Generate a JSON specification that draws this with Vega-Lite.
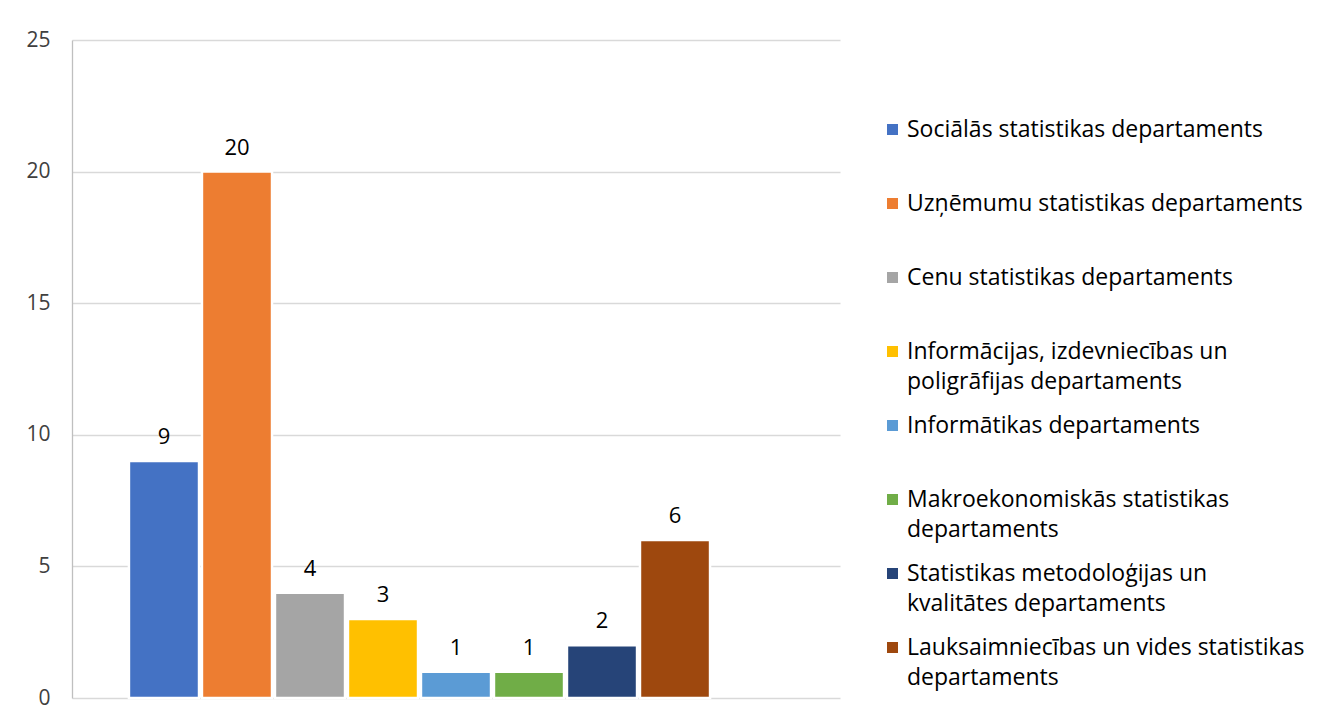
{
  "$schema": "https://vega.github.io/schema/vega-lite/v6.json",
  "width": 768,
  "height": 658,
  "autosize": {"type": "none"},
  "padding": {"left": 72, "top": 40, "right": 478, "bottom": 22},
  "background": "white",
  "config": {
    "font": "Open Sans",
    "view": {"stroke": null},
    "style": {"guide-label": {"lineHeight": 30}}
  },
  "data": {
    "values": [
      {"dept": "Sociālās statistikas departaments", "value": 9},
      {"dept": "Uzņēmumu statistikas departaments", "value": 20},
      {"dept": "Cenu statistikas departaments", "value": 4},
      {"dept": "Informācijas, izdevniecības un poligrāfijas departaments", "value": 3},
      {"dept": "Informātikas departaments", "value": 1},
      {"dept": "Makroekonomiskās statistikas departaments", "value": 1},
      {"dept": "Statistikas metodoloģijas un kvalitātes departaments", "value": 2},
      {"dept": "Lauksaimniecības un vides statistikas departaments", "value": 6}
    ]
  },
  "encoding": {
    "x": {
      "field": "dept",
      "type": "nominal",
      "sort": null,
      "scale": {
        "domain": [
          "Sociālās statistikas departaments",
          "Uzņēmumu statistikas departaments",
          "Cenu statistikas departaments",
          "Informācijas, izdevniecības un poligrāfijas departaments",
          "Informātikas departaments",
          "Makroekonomiskās statistikas departaments",
          "Statistikas metodoloģijas un kvalitātes departaments",
          "Lauksaimniecības un vides statistikas departaments",
          " "
        ],
        "paddingInner": 0.04,
        "paddingOuter": 0.78
      },
      "axis": null
    },
    "y": {
      "field": "value",
      "type": "quantitative",
      "scale": {"domain": [0, 25], "nice": false},
      "axis": {
        "title": null,
        "values": [0, 5, 10, 15, 20, 25],
        "grid": true,
        "gridColor": "#d9d9d9",
        "gridWidth": 1.3,
        "domain": true,
        "domainColor": "#bfbfbf",
        "domainWidth": 1.3,
        "ticks": false,
        "labelPadding": 22,
        "labelFontSize": 21,
        "labelColor": "#404040",
        "labelFont": "Open Sans"
      }
    }
  },
  "layer": [
    {
      "mark": {"type": "bar", "stroke": "white", "strokeWidth": 2.5},
      "encoding": {
        "color": {
          "field": "dept",
          "type": "nominal",
          "sort": null,
          "scale": {
            "domain": [
              "Sociālās statistikas departaments",
              "Uzņēmumu statistikas departaments",
              "Cenu statistikas departaments",
              "Informācijas, izdevniecības un poligrāfijas departaments",
              "Informātikas departaments",
              "Makroekonomiskās statistikas departaments",
              "Statistikas metodoloģijas un kvalitātes departaments",
              "Lauksaimniecības un vides statistikas departaments"
            ],
            "range": ["#4472c4", "#ed7d31", "#a5a5a5", "#ffc000", "#5b9bd5", "#70ad47", "#264478", "#9e480e"]
          },
          "legend": {
            "title": null,
            "orient": "none",
            "legendX": 809,
            "legendY": 78,
            "padding": 0,
            "symbolType": "square",
            "symbolSize": 121,
            "symbolStrokeWidth": 0,
            "labelFontSize": 23,
            "labelFont": "Open Sans",
            "labelColor": "#000000",
            "labelOffset": 3,
            "labelLimit": 0,
            "gridAlign": "all",
            "rowPadding": 20,
            "labelExpr": "datum.label == 'Informācijas, izdevniecības un poligrāfijas departaments' ? ['Informācijas, izdevniecības un', 'poligrāfijas departaments'] : datum.label == 'Makroekonomiskās statistikas departaments' ? ['Makroekonomiskās statistikas', 'departaments'] : datum.label == 'Statistikas metodoloģijas un kvalitātes departaments' ? ['Statistikas metodoloģijas un', 'kvalitātes departaments'] : datum.label == 'Lauksaimniecības un vides statistikas departaments' ? ['Lauksaimniecības un vides statistikas', 'departaments'] : datum.label"
          }
        }
      }
    },
    {
      "mark": {"type": "text", "baseline": "bottom", "dy": -12, "fontSize": 22, "color": "#000000", "font": "Open Sans"},
      "encoding": {
        "text": {"field": "value", "type": "quantitative"}
      }
    }
  ]
}
